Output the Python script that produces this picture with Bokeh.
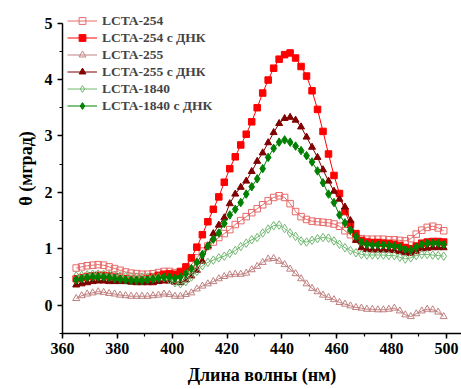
from bokeh.plotting import figure
from bokeh.models import Range1d, SingleIntervalTicker, Legend, LegendItem
from bokeh.embed import file_html
from bokeh.resources import INLINE

wavelength = [365, 367, 369, 371, 373, 375, 377, 379, 381, 383, 385, 387, 389, 391, 393, 395, 397, 399,
              401, 403, 405, 407, 409, 411, 413, 415, 417, 419, 421, 423, 425, 427, 429, 431, 433, 435,
              437, 439, 441, 443, 445, 447, 449, 451, 453, 455, 457, 459, 461, 463, 465, 467, 469, 471,
              473, 475, 477, 479, 481, 483, 485, 487, 489, 491, 493, 495, 497, 499]

lcta254 = [0.66, 0.68, 0.70, 0.71, 0.72, 0.71, 0.68, 0.65, 0.62, 0.59, 0.57, 0.56, 0.55, 0.55, 0.56, 0.58, 0.60, 0.60,
           0.58, 0.57, 0.62, 0.72, 0.84, 0.96, 1.05, 1.12, 1.20, 1.27, 1.34, 1.43, 1.50, 1.57, 1.64, 1.71, 1.78, 1.85,
           1.91, 1.94, 1.91, 1.80, 1.66, 1.57, 1.52, 1.49, 1.48, 1.47, 1.46, 1.44, 1.40, 1.32, 1.25, 1.20, 1.18, 1.17,
           1.17, 1.17, 1.17, 1.16, 1.16, 1.15, 1.14, 1.18, 1.26, 1.33, 1.38, 1.40, 1.37, 1.32]

lcta254_dna = [0.47, 0.49, 0.51, 0.52, 0.53, 0.53, 0.52, 0.50, 0.48, 0.47, 0.46, 0.46, 0.46, 0.47, 0.50, 0.53, 0.55, 0.56,
               0.55, 0.60, 0.68, 0.84, 1.03, 1.25, 1.48, 1.70, 1.92, 2.18, 2.42, 2.63, 2.84, 3.03, 3.25, 3.50, 3.76, 3.99,
               4.20, 4.36, 4.44, 4.47, 4.38, 4.23, 4.06, 3.80, 3.47, 3.08, 2.68, 2.30, 1.98, 1.66, 1.43, 1.27, 1.15, 1.12,
               1.11, 1.11, 1.10, 1.09, 1.08, 1.06, 1.02, 1.00, 1.05, 1.10, 1.12, 1.13, 1.13, 1.12]

lcta255 = [0.12, 0.17, 0.20, 0.22, 0.24, 0.23, 0.21, 0.20, 0.18, 0.17, 0.16, 0.16, 0.16, 0.16, 0.17, 0.18, 0.20, 0.19,
           0.16, 0.16, 0.19, 0.22, 0.29, 0.34, 0.38, 0.42, 0.47, 0.51, 0.54, 0.55, 0.55, 0.57, 0.63, 0.69, 0.76, 0.82,
           0.83, 0.78, 0.72, 0.64, 0.56, 0.47, 0.38, 0.30, 0.24, 0.18, 0.14, 0.10, 0.05, 0.02, -0.01, -0.04, -0.05, -0.07,
           -0.07, -0.08, -0.08, -0.07, -0.05, -0.10, -0.17, -0.20, -0.15, -0.10, -0.07, -0.08, -0.12, -0.20]

lcta255_dna = [0.36, 0.38, 0.40, 0.42, 0.43, 0.43, 0.42, 0.42, 0.42, 0.42, 0.41, 0.40, 0.40, 0.40, 0.40, 0.42, 0.43, 0.43,
               0.41, 0.40, 0.45, 0.52, 0.62, 0.78, 1.05, 1.27, 1.42, 1.55, 1.80, 1.97, 2.09, 2.20, 2.37, 2.55, 2.70, 2.88,
               3.06, 3.22, 3.31, 3.33, 3.28, 3.16, 2.98, 2.80, 2.62, 2.40, 2.20, 2.02, 1.88, 1.74, 1.50, 1.15, 1.02, 0.99,
               0.98, 0.98, 0.98, 0.98, 0.97, 0.95, 0.93, 0.92, 0.95, 1.00, 1.01, 1.02, 1.02, 1.02]

lcta1840 = [0.52, 0.53, 0.54, 0.55, 0.55, 0.55, 0.54, 0.53, 0.52, 0.51, 0.50, 0.50, 0.50, 0.50, 0.50, 0.50, 0.49, 0.45,
            0.40, 0.38, 0.42, 0.50, 0.60, 0.70, 0.76, 0.80, 0.84, 0.87, 0.92, 0.97, 1.04, 1.10, 1.16, 1.20, 1.28, 1.35,
            1.41, 1.42, 1.36, 1.28, 1.22, 1.14, 1.12, 1.15, 1.18, 1.20, 1.19, 1.14, 1.08, 1.02, 0.97, 0.93, 0.90, 0.89,
            0.89, 0.89, 0.89, 0.88, 0.88, 0.85, 0.82, 0.84, 0.88, 0.90, 0.90, 0.89, 0.88, 0.87]

lcta1840_dna = [0.45, 0.47, 0.49, 0.50, 0.50, 0.50, 0.49, 0.47, 0.46, 0.45, 0.44, 0.44, 0.44, 0.45, 0.46, 0.48, 0.50, 0.50,
                0.48, 0.50, 0.56, 0.65, 0.76, 0.90, 1.05, 1.17, 1.28, 1.45, 1.60, 1.70, 1.82, 1.97, 2.10, 2.24, 2.42, 2.62,
                2.78, 2.89, 2.93, 2.89, 2.82, 2.74, 2.65, 2.54, 2.38, 2.17, 1.97, 1.82, 1.60, 1.46, 1.33, 1.22, 1.12, 1.08,
                1.07, 1.07, 1.07, 1.06, 1.05, 1.03, 0.99, 0.98, 1.03, 1.08, 1.10, 1.10, 1.10, 1.08]

series_labels = ["LCTA-254", "LCTA-254 с ДНК", "LCTA-255", "LCTA-255 с ДНК", "LCTA-1840", "LCTA-1840 с ДНК"]

x_label = "Длина волны (нм)"
y_label = "θ (мград)"

FONT = "Liberation Serif"

p = figure(width=461, height=389, output_backend="svg", toolbar_location=None,
           x_range=Range1d(360, 505.5), y_range=Range1d(-0.5, 5.346),
           min_border_left=62, min_border_right=0, min_border_top=3, min_border_bottom=56)
p.outline_line_color = None
p.xgrid.visible = False
p.ygrid.visible = False
p.background_fill_color = "white"
p.border_fill_color = "white"

styles = [
    (lcta254, "square", "#e86a6a", None, 6.5),
    (lcta254_dna, "square", "#ff0000", "#ff0000", 6.5),
    (lcta255, "triangle", "#c08080", None, 7),
    (lcta255_dna, "triangle", "#800000", "#800000", 7),
    (lcta1840, "diamond", "#70b870", None, 8.5),
    (lcta1840_dna, "diamond", "#008000", "#008000", 8.5),
]

items = []
for (vals, marker, color, fill, size), label in zip(styles, series_labels):
    ln = p.line(wavelength, vals, line_color=color, line_width=1)
    sc = p.scatter(wavelength, vals, marker=marker, size=size, line_color=color,
                   fill_color=fill if fill else None, line_width=1)
    items.append(LegendItem(label=label, renderers=[ln, sc]))

legend = Legend(items=items, location=(5, 219), background_fill_alpha=0, border_line_color=None,
                label_text_font=FONT, label_text_font_style="bold", label_text_font_size="13.5px",
                glyph_width=30, glyph_height=17, spacing=0, padding=0, margin=0,
                label_standoff=5, label_height=17)
p.add_layout(legend, "center")

p.xaxis.ticker = SingleIntervalTicker(interval=20, num_minor_ticks=2)
p.yaxis.ticker = SingleIntervalTicker(interval=1, num_minor_ticks=2)
p.yaxis.bounds = (-0.5, 5)

for ax in (p.xaxis[0], p.yaxis[0]):
    ax.axis_line_width = 1.5
    ax.axis_line_color = "black"
    ax.major_tick_in = 0
    ax.major_tick_out = 5
    ax.minor_tick_in = 0
    ax.minor_tick_out = 3
    ax.major_tick_line_width = 1.5
    ax.minor_tick_line_width = 1.2
    ax.major_label_text_font = FONT
    ax.major_label_text_font_style = "bold"
    ax.major_label_text_font_size = "16px"
    ax.major_label_text_color = "black"
    ax.axis_label_text_font = FONT
    ax.axis_label_text_font_style = "bold"
    ax.axis_label_text_font_size = "18px"
    ax.axis_label_text_color = "black"

p.xaxis.axis_label = x_label
p.yaxis.axis_label = y_label
p.xaxis.major_label_standoff = 4
p.yaxis.major_label_standoff = 5
p.xaxis.axis_label_standoff = 8
p.yaxis.axis_label_standoff = 6

open("out.html", "w").write(file_html(p, INLINE))
